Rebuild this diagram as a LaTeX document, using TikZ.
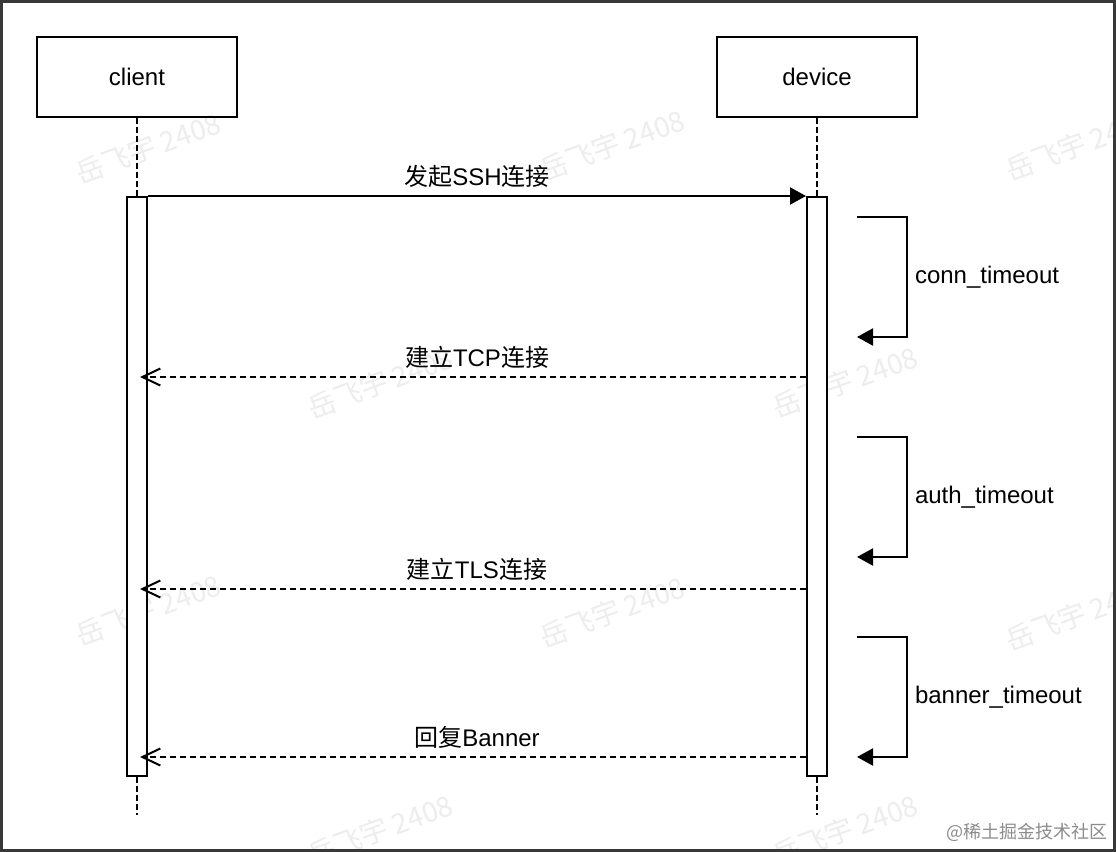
\documentclass[tikz,border=0pt]{standalone}
\usepackage{fontspec}
\setmainfont{Liberation Sans}
\newfontfamily\cjk{Noto Sans CJK SC}
\usetikzlibrary{arrows.meta}
\begin{document}
\begin{tikzpicture}[x=0.5pt,y=-0.5pt,
  every node/.style={font=\fontsize{12pt}{14pt}\selectfont},
  actor/.style={draw,line width=1pt,minimum width=100pt,minimum height=40pt,inner sep=0pt},
  actbar/.style={draw,line width=1pt,fill=white,minimum width=10pt,minimum height=289.5pt,inner sep=0pt},
  lifeline/.style={line width=1pt,dash pattern=on 3pt off 1.5pt},
  callmsg/.style={line width=1pt,-{Triangle[length=8pt,width=8.5pt]}},
  retmsg/.style={line width=1pt,dash pattern=on 3pt off 2pt,-{Straight Barb[length=9pt,width=8.5pt]},shorten >=-4pt},
  msglabel/.style={inner sep=0pt,yshift=9.75pt},
  looplabel/.style={inner sep=0pt,anchor=west,xshift=3.5pt},
  wm/.style={text=black!7,rotate=20,inner sep=0pt,font=\cjk\fontsize{14pt}{16pt}\selectfont},
  frame/.style={draw=black!78,line width=1.5pt}
]
\useasboundingbox (0,0) rectangle (1116,852);
\fill[white] (0,0) rectangle (1116,852);
% watermarks
\foreach \i/\wx/\wy in {1/148/148,2/612/145,3/1078/145,4/380/383,5/845/382,6/148/610,7/612/612,8/1078/615,9/380/830,10/845/830}
  \node[wm] (wm\i) at (\wx,\wy) {岳飞宇 2408};
% actors
\node[actor] (client) at (137,76.5) {client};
\node[actor] (device) at (817,76.5) {device};
\coordinate (cend) at (137,815);
\coordinate (dend) at (817,815);
\node[actbar] (ca) at (137,486.5) {};
\node[actbar] (da) at (817,486.5) {};
\draw[lifeline] (client.south) -- (ca.north);
\draw[lifeline] (device.south) -- (da.north);
\draw[lifeline] (ca.south) -- (cend);
\draw[lifeline] (da.south) -- (dend);
% message y levels
\coordinate (m2) at (0,377);
\coordinate (m3) at (0,589);
\coordinate (m4) at (0,757);
\draw[callmsg] (ca.north east) -- (da.north west)
  node[midway,msglabel] (lab1) {{\cjk 发起}SSH{\cjk 连接}};
\draw[retmsg] (da.west |- m2) -- (ca.east |- m2)
  node[midway,msglabel] (lab2) {{\cjk 建立}TCP{\cjk 连接}};
\draw[retmsg] (da.west |- m3) -- (ca.east |- m3)
  node[midway,msglabel] (lab3) {{\cjk 建立}TLS{\cjk 连接}};
\draw[retmsg] (da.west |- m4) -- (ca.east |- m4)
  node[midway,msglabel] (lab4) {{\cjk 回复}Banner};
% self loops
\coordinate (s1a) at (857,217); \coordinate (s1b) at (857,337);
\coordinate (s2a) at (857,437); \coordinate (s2b) at (857,557);
\coordinate (s3a) at (857,637); \coordinate (s3b) at (857,757);
\draw[callmsg] (s1a) -- ++(50,0) |- (s1b) node[pos=0.25,looplabel] (t1) {conn\_timeout};
\draw[callmsg] (s2a) -- ++(50,0) |- (s2b) node[pos=0.25,looplabel] (t2) {auth\_timeout};
\draw[callmsg] (s3a) -- ++(50,0) |- (s3b) node[pos=0.25,looplabel] (t3) {banner\_timeout};
% footer
\node[anchor=east,inner sep=0pt,text=black!45,font=\cjk\fontsize{9pt}{11pt}\selectfont] (foot) at (1108,832) {@稀土掘金技术社区};
% frame
\draw[frame] (1.5,1.5) rectangle (1114.5,850);
\end{tikzpicture}
\end{document}
